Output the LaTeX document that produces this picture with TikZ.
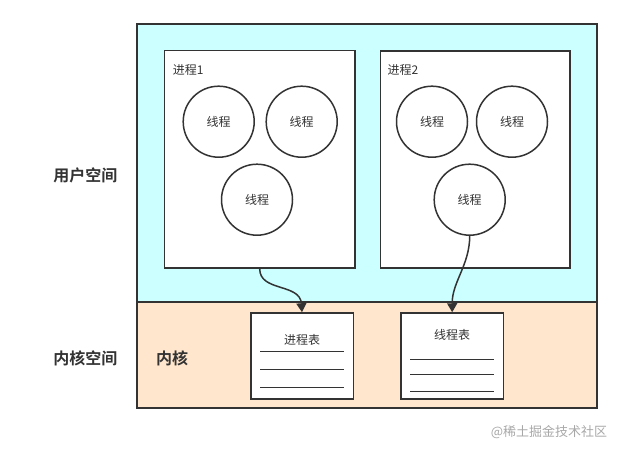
\documentclass[tikz,border=0pt]{standalone}
\usepackage{fontspec}
\setmainfont{Noto Sans CJK SC}[BoldFont={Noto Sans CJK SC Bold}]
\usetikzlibrary{arrows.meta}
\definecolor{usercol}{HTML}{CCFFFF}
\definecolor{kerncol}{HTML}{FFE6CC}
\definecolor{ink}{HTML}{333333}
\definecolor{wm}{HTML}{A8A8A8}
\tikzset{
  region/.style={draw=ink, line width=1.5pt, inner sep=0pt},
  procbox/.style={draw=ink, line width=1.5pt, fill=white, inner sep=0pt},
  thread/.style={circle, draw=ink, line width=1.5pt, fill=white, minimum size=71pt, inner sep=0pt, font=\fontsize{12}{14}\selectfont, text=ink},
  tablebox/.style={draw=ink, line width=1.5pt, fill=white, inner sep=0pt, minimum width=102.5pt, minimum height=86pt},
  small/.style={font=\fontsize{12}{14}\selectfont, text=ink, inner sep=0pt},
  big/.style={font=\fontsize{16}{18}\selectfont\bfseries, text=ink, inner sep=0pt},
  rowline/.style={draw=ink, line width=1pt},
  link/.style={draw=ink, line width=1.5pt, -{Triangle[width=10pt,length=9pt]}},
}
\begin{document}
\begin{tikzpicture}[x=1pt,y=-1pt]
\useasboundingbox (0,0) rectangle (621,452);
\node[region, fill=usercol, minimum width=460pt, minimum height=278pt] (user) at (367,163) {};
\node[region, fill=kerncol, minimum width=460pt, minimum height=106pt] (kern) at (367,355) {};
\node[procbox, minimum width=190.7pt, minimum height=217.3pt] (p1) at (259.7,159.4) {};
\node[procbox, minimum width=189.3pt, minimum height=217pt] (p2) at (475.3,159.5) {};
\node[small, anchor=west] (p1lab) at (172.7,70) {进程1};
\node[small, anchor=west] (p2lab) at (387.3,70) {进程2};
\node[thread] (a1) at (218.7,121.7) {线程};
\node[thread] (a2) at (301.7,121.7) {线程};
\node[thread] (a3) at (257,199.7) {线程};
\node[thread] (b1) at (432,121.7) {线程};
\node[thread] (b2) at (512,121.7) {线程};
\node[thread] (b3) at (469.7,199.7) {线程};
\node[tablebox] (t1) at (302,356) {};
\node[tablebox] (t2) at (452.2,356) {};
\node[small] (t1lab) at (302,340) {进程表};
\node[small] (t2lab) at (452.2,335.3) {线程表};
\draw[rowline] (260,351) -- (344,351);
\draw[rowline] (260,369) -- (344,369);
\draw[rowline] (260,387) -- (344,387);
\draw[rowline] (410,359) -- (494,359);
\draw[rowline] (410,374) -- (494,374);
\draw[rowline] (410,391) -- (494,391);
\draw[link] (p1.south) .. controls (259.7,292) and (300,283) .. (t1.north);
\draw[link] (b3.south) .. controls (469.7,265) and (452,282) .. (t2.north);
\node[big] (ulab) at (85.3,175) {用户空间};
\node[big] (klab) at (85.3,358) {内核空间};
\node[big] (kern2) at (172,358) {内核};
\node[font=\fontsize{13}{15}\selectfont, text=wm, inner sep=0pt] (wmark) at (549,432) {@稀土掘金技术社区};
\end{tikzpicture}
\end{document}
